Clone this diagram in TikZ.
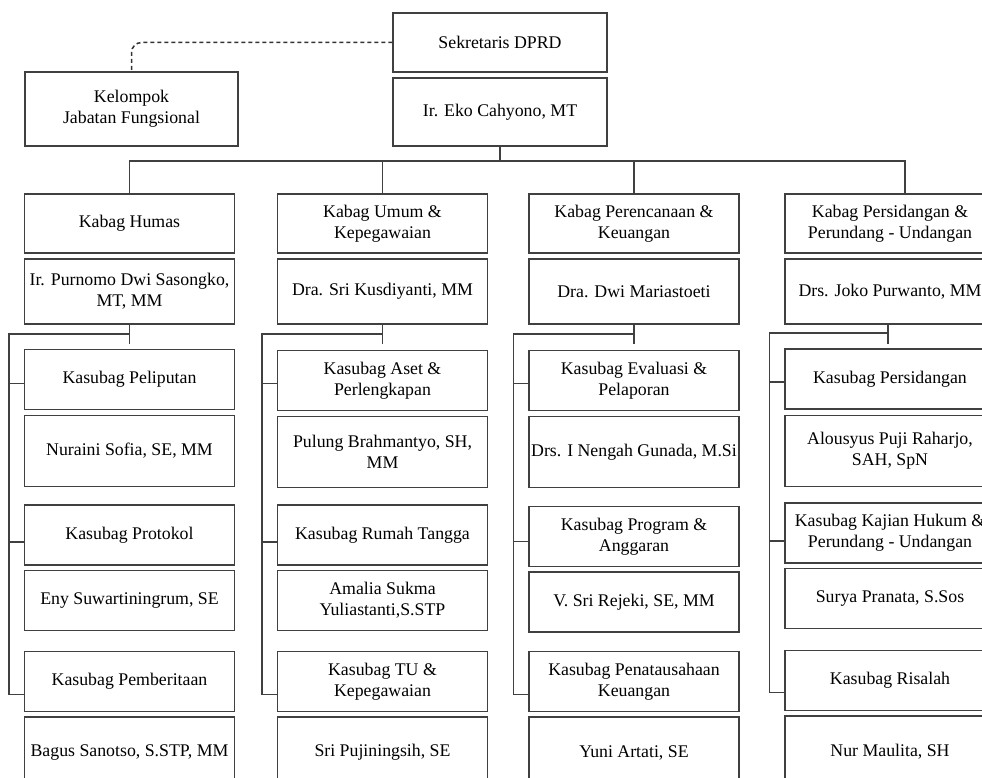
\documentclass[tikz,border=0pt]{standalone}
\usepackage{fontspec}
\setmainfont{Liberation Serif}
\usetikzlibrary{positioning}
\tikzset{
	box/.style={draw=black!75,line width=1.2pt,rectangle,align=center,inner sep=1pt,
		minimum width=210pt,font=\fontsize{17.8}{21}\selectfont},
	kabag/.style={box,minimum height=59pt},
	pejabat/.style={box,minimum height=65pt},
	sub/.style={box,minimum height=60pt},
	staf/.style={box,minimum height=71pt},
	link/.style={draw=black!75,line width=1.2pt},
	fungsi/.style={draw=black!80,line width=1.5pt,dash pattern=on 4pt off 3pt,rounded corners=10pt}
}

\begin{document}
\begin{tikzpicture}[x=1pt,y=-1pt]
	\clip (0,0) rectangle (982,778);
	\node[box,minimum width=214pt,minimum height=59pt] (sek) at (500,42.5) {Sekretaris DPRD};
	\node[box,minimum width=214pt,minimum height=68pt] (eko) at (500,112) {Ir. Eko Cahyono, MT};
	\node[box,minimum width=213pt,minimum height=74pt] (kel) at (131.5,109) {Kelompok\\Jabatan Fungsional};
	\draw[fungsi] (sek.west) -| (kel.north);

	% Kabag Humas
	\node[kabag] (kb1) at (129.5,223.5) {Kabag Humas};
	\node[pejabat] (pj1) at (129.5,291.5) {Ir. Purnomo Dwi Sasongko,\\MT, MM};
	\node[sub] (ks11) at (129.5,379.5) {Kasubag Peliputan};
	\node[staf] (st11) at (129.5,451) {Nuraini Sofia, SE, MM};
	\node[sub] (ks12) at (129.5,535) {Kasubag Protokol};
	\node[sub] (st12) at (129.5,600.5) {Eny Suwartiningrum, SE};
	\node[sub] (ks13) at (129.5,681.5) {Kasubag Pemberitaan};
	\node[staf] (st13) at (129.5,752.5) {Bagus Sanotso, S.STP, MM};

	% Kabag Umum
	\node[kabag] (kb2) at (382.5,223.5) {Kabag Umum \&\\Kepegawaian};
	\node[pejabat] (pj2) at (382.5,291.5) {Dra. Sri Kusdiyanti, MM};
	\node[sub] (ks21) at (382.5,380.5) {Kasubag Aset \&\\Perlengkapan};
	\node[staf] (st21) at (382.5,452) {Pulung Brahmantyo, SH,\\MM};
	\node[sub] (ks22) at (382.5,535) {Kasubag Rumah Tangga};
	\node[sub] (st22) at (382.5,600.5) {Amalia Sukma\\Yuliastanti,S.STP};
	\node[sub] (ks23) at (382.5,681.5) {Kasubag TU \&\\Kepegawaian};
	\node[staf] (st23) at (382.5,752.5) {Sri Pujiningsih, SE};

	% Kabag Perencanaan
	\node[kabag] (kb3) at (634,223.5) {Kabag Perencanaan \&\\Keuangan};
	\node[pejabat] (pj3) at (634,291.5) {Dra. Dwi Mariastoeti};
	\node[sub] (ks31) at (634,380.5) {Kasubag Evaluasi \&\\Pelaporan};
	\node[staf] (st31) at (634,452) {Drs. I Nengah Gunada, M.Si};
	\node[sub] (ks32) at (634,536.5) {Kasubag Program \&\\Anggaran};
	\node[sub] (st32) at (634,602) {V. Sri Rejeki, SE, MM};
	\node[sub] (ks33) at (634,681.5) {Kasubag Penatausahaan\\Keuangan};
	\node[staf] (st33) at (634,752.5) {Yuni Artati, SE};

	% Kabag Persidangan
	\node[kabag] (kb4) at (890,223.5) {Kabag Persidangan \&\\Perundang - Undangan};
	\node[pejabat] (pj4) at (890,291.5) {Drs. Joko Purwanto, MM};
	\node[sub] (ks41) at (890,379) {Kasubag Persidangan};
	\node[staf] (st41) at (890,451) {Alousyus Puji Raharjo,\\SAH, SpN};
	\node[sub] (ks42) at (890,533) {Kasubag Kajian Hukum \&\\Perundang - Undangan};
	\node[sub] (st42) at (890,598.5) {Surya Pranata, S.Sos};
	\node[sub] (ks43) at (890,680.5) {Kasubag Risalah};
	\node[staf] (st43) at (890,751.5) {Nur Maulita, SH};

	% garis komando
	\coordinate (bus) at (0,161);
	\draw[link] (eko.south) -- (eko.south |- bus);
	\draw[link] (kb1.north) -- (kb1.north |- bus) -- ([xshift=15pt]kb4.north |- bus) -- ([xshift=15pt]kb4.north);
	\draw[link] (kb2.north |- bus) -- (kb2.north);
	\draw[link] (kb3.north |- bus) -- (kb3.north);

	\draw[link] (pj1.south) -- ++(0,19);
	\draw[link] (pj1.south |- 0,334) -| ([xshift=-15pt,yshift=-13pt]ks13.west) -- ([yshift=-13pt]ks13.west);
	\draw[link] ([xshift=-15pt,yshift=-4pt]ks11.west) -- ([yshift=-4pt]ks11.west);
	\draw[link] ([xshift=-15pt,yshift=-7pt]ks12.west) -- ([yshift=-7pt]ks12.west);

	\draw[link] (pj2.south) -- ++(0,19);
	\draw[link] (pj2.south |- 0,334) -| ([xshift=-15pt,yshift=-13pt]ks23.west) -- ([yshift=-13pt]ks23.west);
	\draw[link] ([xshift=-15pt,yshift=-3pt]ks21.west) -- ([yshift=-3pt]ks21.west);
	\draw[link] ([xshift=-15pt,yshift=-7pt]ks22.west) -- ([yshift=-7pt]ks22.west);

	\draw[link] (pj3.south) -- ++(0,19);
	\draw[link] (pj3.south |- 0,334) -| ([xshift=-15pt,yshift=-13pt]ks33.west) -- ([yshift=-13pt]ks33.west);
	\draw[link] ([xshift=-15pt,yshift=-3pt]ks31.west) -- ([yshift=-3pt]ks31.west);
	\draw[link] ([xshift=-15pt,yshift=-5pt]ks32.west) -- ([yshift=-5pt]ks32.west);

	\draw[link] ([xshift=-2pt]pj4.south) -- ++(0,19);
	\draw[link] ([xshift=-2pt]pj4.south |- 0,333) -| ([xshift=-15pt,yshift=-12pt]ks43.west) -- ([yshift=-12pt]ks43.west);
	\draw[link] ([xshift=-15pt,yshift=-3pt]ks41.west) -- ([yshift=-3pt]ks41.west);
	\draw[link] ([xshift=-15pt,yshift=-8pt]ks42.west) -- ([yshift=-8pt]ks42.west);
\end{tikzpicture}
\end{document}
